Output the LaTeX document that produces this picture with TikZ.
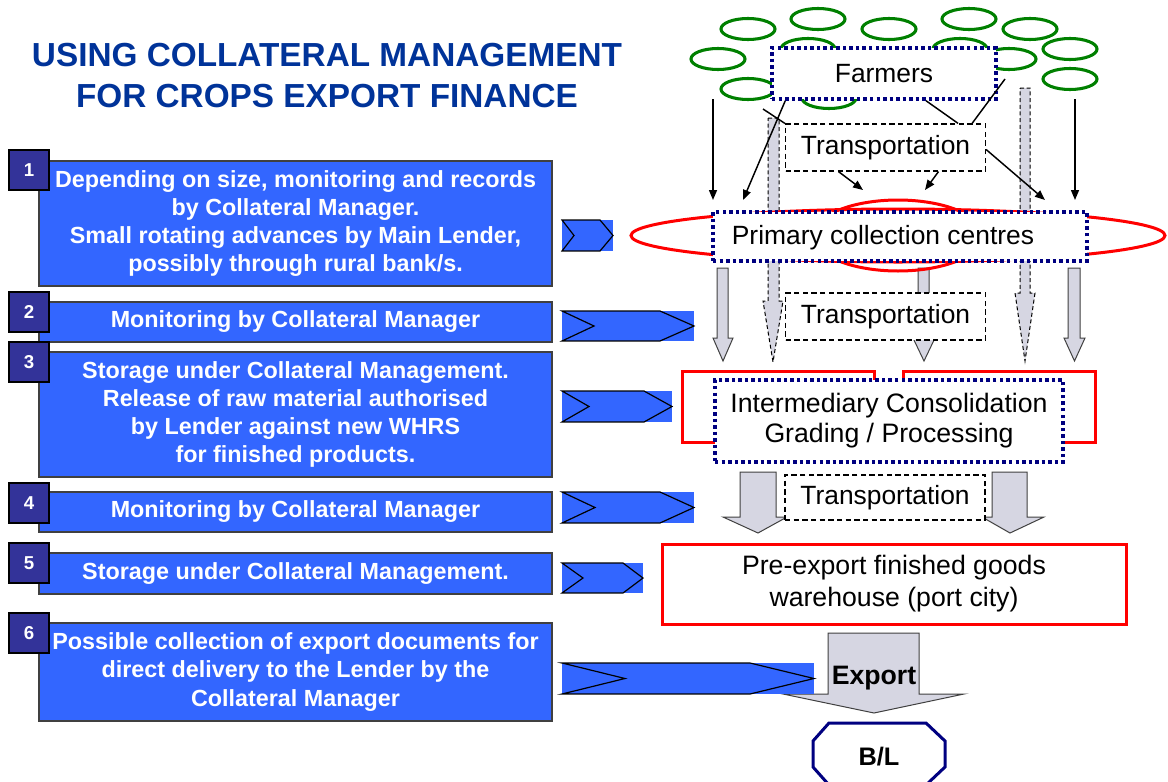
\documentclass[tikz,border=0pt]{standalone}
\usepackage{fontspec}
\setmainfont{Liberation Sans}
\usetikzlibrary{arrows.meta,shapes.geometric,calc}
\definecolor{boxblue}{HTML}{3366FF}
\definecolor{numblue}{HTML}{333399}
\definecolor{titleblue}{HTML}{003399}
\definecolor{navyline}{HTML}{000080}
\definecolor{farmgreen}{HTML}{008000}
\definecolor{arrowgray}{HTML}{D6D6E2}
\definecolor{redline}{HTML}{FF0000}
\newcommand{\chevbox}[7]{%
  \fill[boxblue] (#2,#3) rectangle (#4,#5);
  \draw[line width=0.9pt, line join=miter] (#2,#3) -- (#7,#3) -- (#4,{(#3+#5)/2}) -- (#7,#5) -- (#2,#5) -- (#6,{(#3+#5)/2}) -- cycle;
  \coordinate (#1) at ({(#2+#4)/2},{(#3+#5)/2});}
\begin{document}
\begin{tikzpicture}[x=0.75pt,y=-0.75pt,
  lbox/.style={fill=boxblue, draw=black!75, line width=0.9pt, text=white,
    font=\bfseries\fontsize{17.5}{21.2}\selectfont, align=center, inner sep=0pt,
    minimum width=384.75pt},
  numsq/.style={fill=numblue, draw=black, line width=0.9pt, text=white,
    font=\bfseries\fontsize{14}{16}\selectfont, minimum size=30pt, inner sep=0pt},
  farm/.style={ellipse, draw=farmgreen, line width=2.3pt, fill=white,
    minimum width=40.5pt, minimum height=15.75pt, inner sep=0pt},
  dotbox/.style={draw=navyline, line width=2.6pt, dash pattern=on 2.6pt off 2.3pt,
    fill=white, font=\fontsize{19.8}{22.5}\selectfont, align=center, inner sep=0pt},
  tbox/.style={draw=black, line width=0.9pt, dash pattern=on 4pt off 2.5pt, fill=white,
    font=\fontsize{19.8}{22.5}\selectfont, inner sep=0pt,
    minimum width=150pt, minimum height=35.25pt},
  redbox/.style={draw=redline, line width=2.25pt, fill=white, align=center, inner sep=0pt,
    font=\fontsize{20}{24}\selectfont},
  ring/.style={ellipse, draw=redline, line width=2.25pt, inner sep=0pt},
  arr/.style={draw=black, line width=1.1pt, -{Triangle[length=7.5pt,width=6pt]}},
  plain/.style={draw=black, line width=1.1pt},
  garrow/.style={fill=arrowgray, draw=black!75, line width=0.75pt, line join=miter},
  gdash/.style={garrow, draw=black, dash pattern=on 3pt off 2pt},
  titletext/.style={text=titleblue, font=\bfseries\fontsize{25}{30}\selectfont, inner sep=0pt, anchor=base}
]
\useasboundingbox (0,0) rectangle (1168,782);
\fill[white] (0,0) rectangle (1168,782);

% ---------- title ----------
\node[titletext] (title1) at (327,66) {USING COLLATERAL MANAGEMENT};
\node[titletext] (title2) at (327,107) {FOR CROPS EXPORT FINANCE};

% ---------- left boxes ----------
\node[lbox, minimum height=93.75pt] (b1) at (295.5,223.5) {Depending on size, monitoring and records\\by Collateral Manager.\\Small rotating advances by Main Lender,\\possibly through rural bank/s.};
\node[lbox, minimum height=30pt] (b2) at (295.5,322) {Monitoring by Collateral Manager};
\node[lbox, minimum height=93.75pt] (b3) at (295.5,414.5) {Storage under Collateral Management.\\Release of raw material authorised\\by Lender against new WHRS\\for finished products.};
\node[lbox, minimum height=30pt] (b4) at (295.5,512) {Monitoring by Collateral Manager};
\node[lbox, minimum height=30.75pt] (b5) at (295.5,573.5) {Storage under Collateral Management.};
\node[lbox, minimum height=73.5pt] (b6) at (295.5,672) {Possible collection of export documents for\\direct delivery to the Lender by the\\Collateral Manager};

\node[numsq] (n1) at (29,170) {1};
\node[numsq] (n2) at (29,312) {2};
\node[numsq] (n3) at (29,362) {3};
\node[numsq] (n4) at (29,503) {4};
\node[numsq] (n5) at (29,563) {5};
\node[numsq] (n6) at (29,633) {6};

% ---------- chevrons ----------
\chevbox{c1}{562}{220}{613}{251}{574}{600}
\chevbox{c2}{562}{311}{694}{341}{594}{660}
\chevbox{c3}{562}{391}{672}{422}{589}{644}
\chevbox{c4}{562}{492}{694}{523}{595}{660}
\chevbox{c5}{562}{563}{643}{593}{583}{623}

% ---------- farmers ----------
\foreach \px/\py [count=\i] in {748/29,818/19,889/29,969/19,1030/29,1070/49,1070/79,718/59,748/89,808/49,960/49,1009/59,829/98}
  \node[farm] (f\i) at (\px,\py) {};

% dashed gray block arrows (behind boxes)
\draw[gdash] (768,118) -- (779,118) -- (779,301) -- (783,301) -- (773,362) -- (763,301) -- (768,301) -- cycle;
\draw[gdash] (1020,88) -- (1030,88) -- (1030,293) -- (1035,293) -- (1025,361) -- (1015,293) -- (1020,293) -- cycle;

\node[dotbox, minimum width=168pt, minimum height=38.25pt] (farmers) at (884,73.5) {Farmers};
\node[tbox] (tr1) at (885.5,147.5) {Transportation};

% black connectors
\coordinate (a1s) at (713,99);  \coordinate (a1e) at (713,200);
\coordinate (a2e) at (743,200);
\coordinate (l1s) at (763,109);
\coordinate (l3s) at (1005,79);
\coordinate (a4e) at (863,190);
\coordinate (a5e) at (925,190);
\coordinate (a6e) at (1045,200);
\coordinate (a7s) at (1075,99); \coordinate (a7e) at (1075,200);
\draw[arr] (a1s) -- (a1e);
\draw[arr] ($(farmers.south west)+(15,0)$) -- (a2e);
\draw[plain] (l1s) -- (tr1.north west);
\draw[plain] ($(farmers.south)+(42,0)$) -- ($(tr1.north east)+(-28,0)$);
\draw[plain] (l3s) -- ($(tr1.north east)+(-14,0)$);
\draw[arr] ($(tr1.south)+(-47,0)$) -- (a4e);
\draw[arr] ($(tr1.south)+(53,0)$) -- (a5e);
\draw[arr] ($(tr1.east)+(0,2)$) -- (a6e);
\draw[arr] (a7s) -- (a7e);

% ---------- primary collection ----------
\draw[garrow] (717,268) -- (728,268) -- (728,338) -- (733,338) -- (723,361) -- (713,338) -- (717,338) -- cycle;
\draw[garrow] (918,268) -- (929,268) -- (929,338) -- (935,338) -- (924,361) -- (913,338) -- (918,338) -- cycle;
\draw[garrow] (1068,268) -- (1080,268) -- (1080,338) -- (1085,338) -- (1074.5,361) -- (1064,338) -- (1068,338) -- cycle;
\node[ring, minimum width=400.5pt, minimum height=39.75pt] (pccring) at (898,235.5) {};
\node[ring, minimum width=127.5pt, minimum height=53.25pt] (pcchub) at (898,235.5) {};
\node[dotbox, minimum width=280.5pt, minimum height=36.75pt] (pcc) at (900,236.5) {};
\node[font=\fontsize{19.8}{22.5}\selectfont, inner sep=0pt] (pcctext) at ($(pcc.center)+(-17,1)$) {Primary collection centres};

\node[tbox] (tr2) at (885.5,316.5) {Transportation};

% ---------- intermediary ----------
\draw[draw=redline, line width=2.25pt, line join=miter] (874,381) -- (874,371) -- (682,371) -- (682,442) -- (715,442);
\draw[draw=redline, line width=2.25pt, line join=miter] (903,381) -- (903,371) -- (1095,371) -- (1095,442) -- (1063,442);
\node[dotbox, font=\fontsize{20}{22.5}\selectfont, minimum width=261pt, minimum height=61.5pt] (inter) at (889,421) {Intermediary Consolidation\\Grading / Processing};

\draw[garrow] (740,472) -- (776,472) -- (776,517) -- (787,517) -- (758,533) -- (723,517) -- (740,517) -- cycle;
\draw[garrow] (992,472) -- (1027,472) -- (1027,517) -- (1044,517) -- (1010,533) -- (982,517) -- (992,517) -- cycle;
\node[tbox, minimum height=33.75pt] (tr3) at (885,497.5) {Transportation};

% ---------- warehouse ----------
\node[redbox, minimum width=348pt, minimum height=60pt] (wh) at (894,584) {Pre-export finished goods\\warehouse (port city)};

% ---------- export ----------
\draw[garrow] (828,633) -- (919,633) -- (919,694) -- (964,694) -- (874,713) -- (783,694) -- (828,694) -- cycle;
\chevbox{c6}{562}{663}{814}{694}{625}{750}
\node[font=\bfseries\fontsize{20}{24}\selectfont, inner sep=0pt] (export) at (874,678) {Export};

\draw[draw=navyline, fill=white, line width=2.25pt, line join=miter] (829,723) -- (926,723) -- (945,741) -- (945,767) -- (926,785) -- (829,785) -- (813,767) -- (813,741) -- cycle;
\node[font=\bfseries\fontsize{19}{22}\selectfont, inner sep=0pt] (bl) at (879,757) {B/L};
\end{tikzpicture}
\end{document}
